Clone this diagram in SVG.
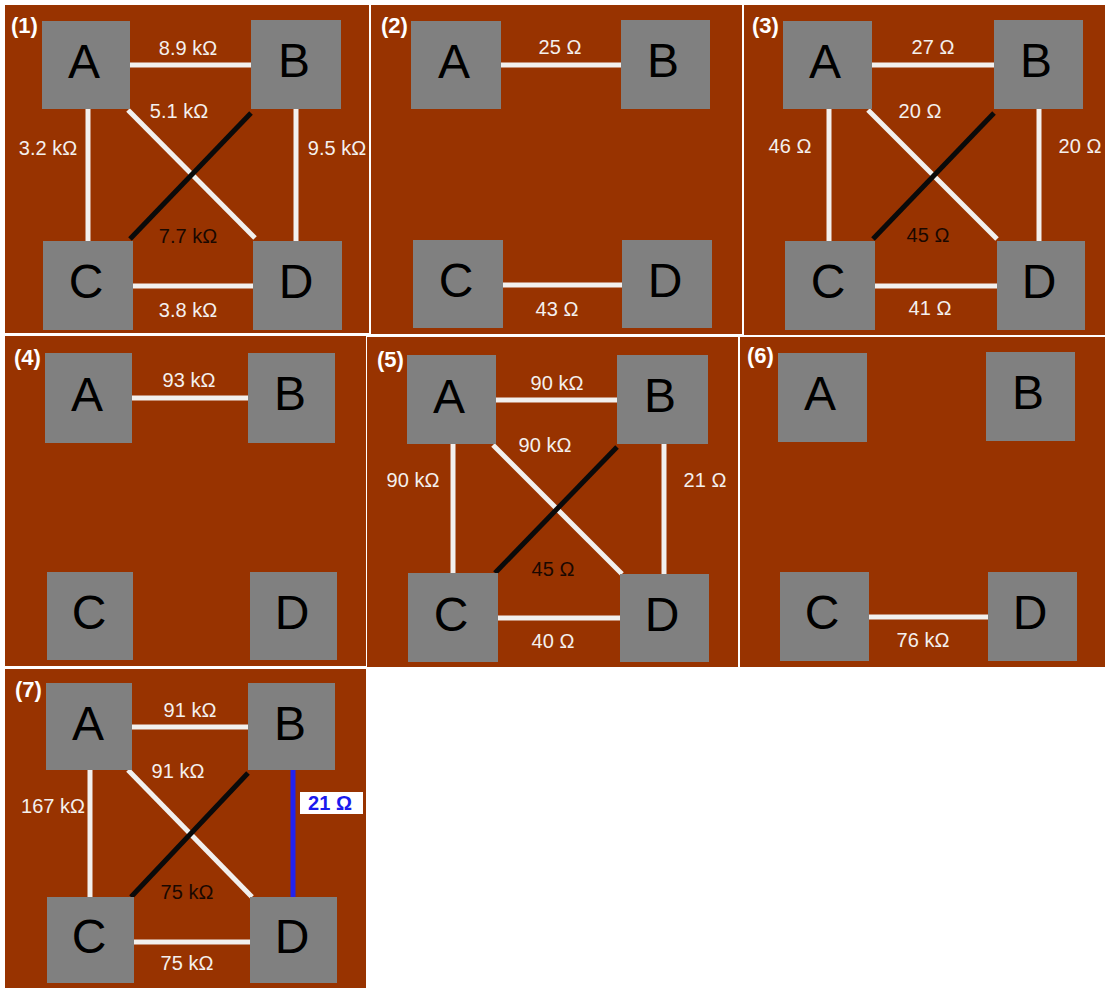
<svg xmlns="http://www.w3.org/2000/svg" width="1105" height="988" viewBox="0 0 1105 988">
<style>
.bg{fill:#983300}
.nd{fill:#808080}
.lt{font-family:"Liberation Sans",Arial,sans-serif;font-size:48px;fill:#000;text-anchor:middle}
.lb{font-family:"Liberation Sans",Arial,sans-serif;font-size:20px;fill:#f4f0ee;text-anchor:middle}
.lk{font-family:"Liberation Sans",Arial,sans-serif;font-size:20px;fill:#1a0800;text-anchor:middle}
.pn{font-family:"Liberation Sans",Arial,sans-serif;font-size:22px;font-weight:bold;fill:#fff}
.w{stroke:#f2f0ee;stroke-width:5;fill:none}
.k{stroke:#0a0a0a;stroke-width:5;fill:none}
.bl{stroke:#2222ee;stroke-width:5;fill:none}
</style>
<rect width="1105" height="988" fill="#fff"/>
<g id="panels">
<rect class="bg" x="5" y="5" width="364" height="328"/>
<rect class="bg" x="371" y="5" width="371" height="329"/>
<rect class="bg" x="744" y="5" width="361" height="330"/>
<rect class="bg" x="5" y="336" width="361" height="330"/>
<rect class="bg" x="367" y="337" width="371" height="330"/>
<rect class="bg" x="740" y="337" width="365" height="330"/>
<rect class="bg" x="5" y="669" width="361" height="319"/>
</g>
<g id="connectors">
<!-- panel 1 -->
<line class="w" x1="130" y1="65" x2="251" y2="65"/>
<line class="w" x1="88" y1="109" x2="88" y2="241"/>
<line class="w" x1="296" y1="109" x2="296" y2="241"/>
<line class="w" x1="133" y1="286" x2="253" y2="286"/>
<line class="w" x1="128" y1="110" x2="255" y2="238"/>
<line class="k" x1="251" y1="113" x2="130" y2="239"/>
<!-- panel 2 -->
<line class="w" x1="501" y1="65" x2="621" y2="65"/>
<line class="w" x1="503" y1="285" x2="622" y2="285"/>
<!-- panel 3 -->
<line class="w" x1="872" y1="65" x2="994" y2="65"/>
<line class="w" x1="829" y1="109" x2="829" y2="241"/>
<line class="w" x1="1039" y1="109" x2="1039" y2="241"/>
<line class="w" x1="875" y1="286" x2="997" y2="286"/>
<line class="w" x1="868" y1="110" x2="997" y2="239"/>
<line class="k" x1="994" y1="113" x2="873" y2="239"/>
<!-- panel 4 -->
<line class="w" x1="132" y1="398" x2="248" y2="398"/>
<!-- panel 5 -->
<line class="w" x1="496" y1="400" x2="617" y2="400"/>
<line class="w" x1="453" y1="444" x2="453" y2="573"/>
<line class="w" x1="664" y1="444" x2="664" y2="574"/>
<line class="w" x1="498" y1="618" x2="620" y2="618"/>
<line class="w" x1="493" y1="445" x2="622" y2="574"/>
<line class="k" x1="617" y1="447" x2="495" y2="573"/>
<!-- panel 6 -->
<line class="w" x1="869" y1="617" x2="988" y2="617"/>
<!-- panel 7 -->
<line class="w" x1="132" y1="727" x2="248" y2="727"/>
<line class="w" x1="90" y1="770" x2="90" y2="897"/>
<line class="bl" x1="293" y1="770" x2="293" y2="897"/>
<line class="w" x1="134" y1="942" x2="250" y2="942"/>
<line class="w" x1="128" y1="770" x2="252" y2="897"/>
<line class="k" x1="248" y1="773" x2="131" y2="897"/>
</g>
<g id="labels">
<text class="lb" x="188" y="55">8.9 kΩ</text>
<text class="lb" x="179" y="118">5.1 kΩ</text>
<text class="lb" x="48" y="155">3.2 kΩ</text>
<text class="lb" x="337" y="155">9.5 kΩ</text>
<text class="lk" x="188" y="243">7.7 kΩ</text>
<text class="lb" x="188" y="317">3.8 kΩ</text>
<text class="lb" x="560" y="54">25 Ω</text>
<text class="lb" x="557" y="316">43 Ω</text>
<text class="lb" x="933" y="54">27 Ω</text>
<text class="lb" x="790" y="153">46 Ω</text>
<text class="lb" x="1080" y="153">20 Ω</text>
<text class="lb" x="920" y="118">20 Ω</text>
<text class="lk" x="928" y="242">45 Ω</text>
<text class="lb" x="930" y="315">41 Ω</text>
<text class="lb" x="189" y="387">93 kΩ</text>
<text class="lb" x="557" y="390">90 kΩ</text>
<text class="lb" x="413" y="487">90 kΩ</text>
<text class="lb" x="705" y="487">21 Ω</text>
<text class="lb" x="545" y="452">90 kΩ</text>
<text class="lk" x="553" y="576">45 Ω</text>
<text class="lb" x="553" y="648">40 Ω</text>
<text class="lb" x="923" y="647">76 kΩ</text>
<text class="lb" x="190" y="717">91 kΩ</text>
<text class="lb" x="53" y="813">167 kΩ</text>
<rect x="300" y="792" width="63" height="22" fill="#fff"/>
<text class="lb" x="330" y="810" style="fill:#1a1aee;font-weight:bold">21 Ω</text>
<text class="lb" x="178" y="778">91 kΩ</text>
<text class="lk" x="187" y="899">75 kΩ</text>
<text class="lb" x="187" y="970">75 kΩ</text>
</g>
<g id="panel-numbers">
<text class="pn" x="11" y="33">(1)</text>
<text class="pn" x="381" y="33">(2)</text>
<text class="pn" x="752" y="33">(3)</text>
<text class="pn" x="14" y="365">(4)</text>
<text class="pn" x="377" y="367">(5)</text>
<text class="pn" x="747" y="363">(6)</text>
<text class="pn" x="15" y="697">(7)</text>
</g>
<g id="p1-A"><rect class="nd" x="42" y="21" width="88" height="88"/><text class="lt" x="84" y="78">A</text></g>
<g id="p1-B"><rect class="nd" x="251" y="20" width="90" height="89"/><text class="lt" x="294" y="77">B</text></g>
<g id="p1-C"><rect class="nd" x="43" y="241" width="90" height="89"/><text class="lt" x="86" y="298">C</text></g>
<g id="p1-D"><rect class="nd" x="253" y="241" width="89" height="89"/><text class="lt" x="296" y="298">D</text></g>
<g id="p2-A"><rect class="nd" x="411" y="21" width="90" height="88"/><text class="lt" x="454" y="78">A</text></g>
<g id="p2-B"><rect class="nd" x="621" y="20" width="89" height="89"/><text class="lt" x="663" y="77">B</text></g>
<g id="p2-C"><rect class="nd" x="413" y="240" width="90" height="88"/><text class="lt" x="456" y="297">C</text></g>
<g id="p2-D"><rect class="nd" x="622" y="240" width="90" height="88"/><text class="lt" x="665" y="297">D</text></g>
<g id="p3-A"><rect class="nd" x="783" y="21" width="89" height="88"/><text class="lt" x="825" y="78">A</text></g>
<g id="p3-B"><rect class="nd" x="994" y="20" width="89" height="89"/><text class="lt" x="1036" y="77">B</text></g>
<g id="p3-C"><rect class="nd" x="785" y="241" width="90" height="89"/><text class="lt" x="828" y="298">C</text></g>
<g id="p3-D"><rect class="nd" x="997" y="241" width="88" height="89"/><text class="lt" x="1039" y="298">D</text></g>
<g id="p4-A"><rect class="nd" x="45" y="353" width="87" height="90"/><text class="lt" x="87" y="411">A</text></g>
<g id="p4-B"><rect class="nd" x="248" y="353" width="87" height="90"/><text class="lt" x="290" y="410">B</text></g>
<g id="p4-C"><rect class="nd" x="47" y="572" width="86" height="88"/><text class="lt" x="89" y="629">C</text></g>
<g id="p4-D"><rect class="nd" x="250" y="572" width="87" height="88"/><text class="lt" x="292" y="629">D</text></g>
<g id="p5-A"><rect class="nd" x="407" y="355" width="89" height="89"/><text class="lt" x="449" y="413">A</text></g>
<g id="p5-B"><rect class="nd" x="617" y="355" width="91" height="89"/><text class="lt" x="660" y="412">B</text></g>
<g id="p5-C"><rect class="nd" x="408" y="573" width="90" height="89"/><text class="lt" x="451" y="631">C</text></g>
<g id="p5-D"><rect class="nd" x="620" y="574" width="89" height="88"/><text class="lt" x="662" y="631">D</text></g>
<g id="p6-A"><rect class="nd" x="778" y="353" width="89" height="89"/><text class="lt" x="820" y="410">A</text></g>
<g id="p6-B"><rect class="nd" x="986" y="352" width="89" height="89"/><text class="lt" x="1028" y="409">B</text></g>
<g id="p6-C"><rect class="nd" x="780" y="572" width="89" height="89"/><text class="lt" x="822" y="629">C</text></g>
<g id="p6-D"><rect class="nd" x="988" y="572" width="89" height="89"/><text class="lt" x="1030" y="629">D</text></g>
<g id="p7-A"><rect class="nd" x="46" y="683" width="86" height="87"/><text class="lt" x="88" y="740">A</text></g>
<g id="p7-B"><rect class="nd" x="248" y="683" width="87" height="87"/><text class="lt" x="290" y="740">B</text></g>
<g id="p7-C"><rect class="nd" x="47" y="897" width="87" height="86"/><text class="lt" x="89" y="953">C</text></g>
<g id="p7-D"><rect class="nd" x="250" y="897" width="87" height="86"/><text class="lt" x="292" y="953">D</text></g>
</svg>
